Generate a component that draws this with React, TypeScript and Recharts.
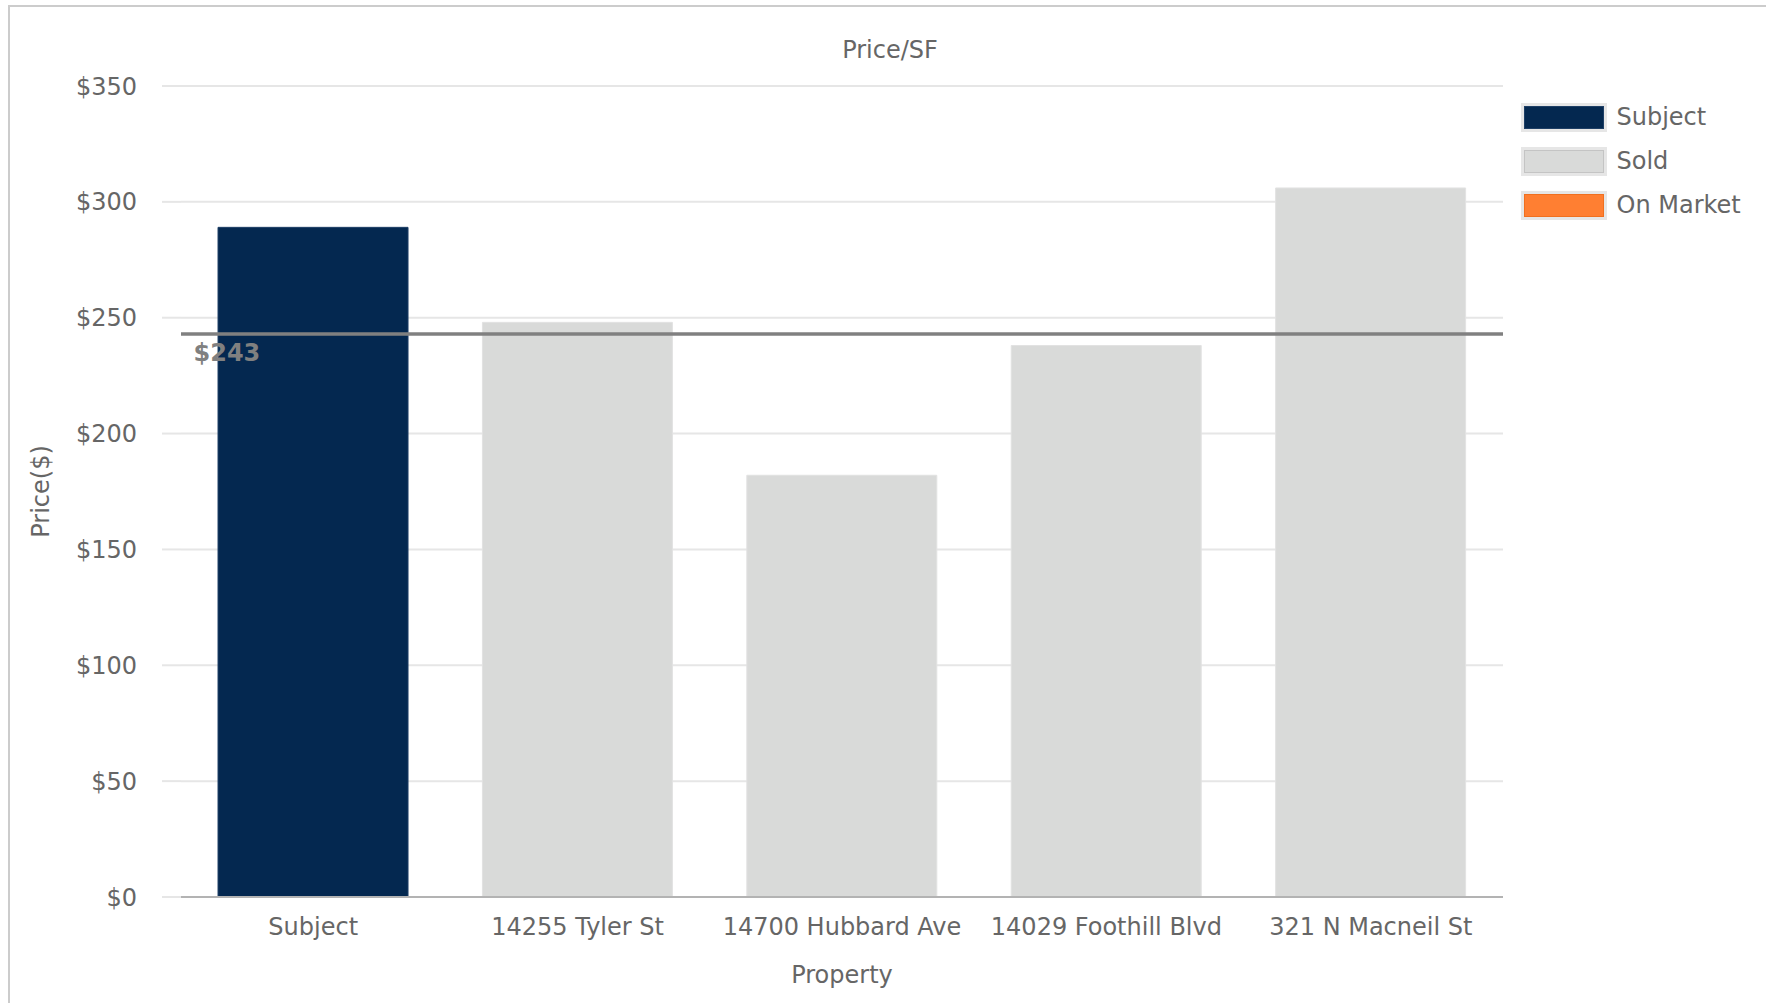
import React from 'react';
import { BarChart, Bar, Cell, XAxis, YAxis, CartesianGrid, ReferenceLine } from 'recharts';

// Price per square foot for the subject and its comparables
const properties = ['Subject', '14255 Tyler St', '14700 Hubbard Ave', '14029 Foothill Blvd', '321 N Macneil St'];
const pricePerSf = [289, 248, 182, 238, 306];
const statuses = ['Subject', 'Sold', 'Sold', 'Sold', 'Sold'];
const averagePrice = 243;
const yTicks = [0, 50, 100, 150, 200, 250, 300, 350];

const legendLabels = ['Subject', 'Sold', 'On Market'];
const statusColors: Record<string, string> = {
  Subject: '#042850',
  Sold: '#d9dad9',
  'On Market': '#ff7f32',
};
const statusEdges: Record<string, string> = {
  Subject: '#1e3f66',
  Sold: '#e2e2e2',
  'On Market': '#f07020',
};
const legendEdges: Record<string, string> = {
  Subject: '#1e3f66',
  Sold: '#c4c4c4',
  'On Market': '#f07020',
};

const chartData = properties.map((name, i) => ({
  name,
  value: pricePerSf[i],
  status: statuses[i],
}));

const FONT = '"DejaVu Sans", Verdana, sans-serif';
const TEXT = '#666666';
const FS = 24;

const XTick = (props: any) => {
  const { x, y, payload } = props;
  return (
    <text x={x} y={y + 38} textAnchor="middle" fill={TEXT} fontSize={FS} fontFamily={FONT}>
      {payload.value}
    </text>
  );
};

const YTitle = (props: any) => {
  const vb = props.viewBox || { x: 0, y: 0, width: 0, height: 0 };
  const cx = vb.x + 48.5;
  const cy = vb.y + vb.height / 2;
  return (
    <text x={cx} y={cy} transform={`rotate(-90, ${cx}, ${cy})`} textAnchor="middle" fill={TEXT} fontSize={FS} fontFamily={FONT}>
      Price($)
    </text>
  );
};

const XTitle = (props: any) => {
  const vb = props.viewBox || { x: 0, y: 0, width: 0, height: 0 };
  return (
    <text x={vb.x + vb.width / 2} y={983} textAnchor="middle" fill={TEXT} fontSize={FS} fontFamily={FONT}>
      Property
    </text>
  );
};

const AvgLabel = (props: any) => {
  const vb = props.viewBox || { x: 0, y: 0 };
  return (
    <text x={vb.x + 12.5} y={vb.y + 27} fill="#808080" fontSize={FS} fontWeight="bold" fontFamily={FONT}>
      {`$${averagePrice}`}
    </text>
  );
};

const LegendBox = () => (
  <div style={{ position: 'absolute', left: 1521, top: 103, fontFamily: FONT }}>
    {legendLabels.map((label) => (
      <div key={label} style={{ display: 'flex', alignItems: 'center', height: 28.5, marginBottom: 15.5 }}>
        <div
          style={{
            width: 85.5,
            height: 28.5,
            boxSizing: 'border-box',
            background: '#e6e6e6',
            padding: 2.5,
          }}
        >
          <div
            style={{
              width: '100%',
              height: '100%',
              boxSizing: 'border-box',
              background: statusColors[label],
              border: `1px solid ${legendEdges[label]}`,
            }}
          />
        </div>
        <span style={{ marginLeft: 10, fontSize: FS, color: TEXT, lineHeight: '28px' }}>{label}</span>
      </div>
    ))}
  </div>
);

export default function App() {
  return (
    <div style={{ position: 'fixed', left: 0, top: 0, width: '100vw', height: '100vh', overflow: 'hidden', background: '#ffffff' }}>
      <div
        style={{
          position: 'absolute',
          left: 8,
          top: 5,
          width: 1850,
          height: 1100,
          border: '2px solid #cccccc',
        }}
      />
      <div style={{ position: 'absolute', left: 0, top: 0 }}>
        <BarChart
          width={1766}
          height={1003}
          data={chartData}
          margin={{ top: 86, right: 263, bottom: 46, left: 0 }}
          barCategoryGap="14%"
        >
          <CartesianGrid horizontal vertical={false} stroke="#e6e6e6" strokeWidth={2} />
          <XAxis
            dataKey="name"
            height={60}
            tickLine={false}
            tickSize={0}
            tickMargin={0}
            axisLine={{ stroke: '#b3b3b3', strokeWidth: 2 }}
            tick={<XTick />}
            interval={0}
            label={{ content: <XTitle /> }}
          />
          <YAxis
            width={181}
            domain={[0, 350]}
            ticks={yTicks}
            interval={0}
            axisLine={false}
            tickSize={19}
            tickMargin={25}
            tickLine={{ stroke: '#e6e6e6', strokeWidth: 2 }}
            tickFormatter={(v: number) => `$${v}`}
            tick={{ fill: TEXT, fontSize: FS, fontFamily: FONT }}
            label={{ content: <YTitle /> }}
          />
          <Bar dataKey="value" isAnimationActive={false}>
            {chartData.map((d) => (
              <Cell key={d.name} fill={statusColors[d.status]} stroke={statusEdges[d.status]} strokeWidth={1} />
            ))}
          </Bar>
          <ReferenceLine
            y={averagePrice}
            stroke="#808080"
            strokeWidth={3.5}
            label={{ content: <AvgLabel /> }}
          />
        </BarChart>
      </div>
      <svg width={1766} height={80} style={{ position: 'absolute', left: 0, top: 0, pointerEvents: 'none' }}>
        <text x={890} y={57.5} textAnchor="middle" fill={TEXT} fontSize={FS} fontFamily={FONT}>
          Price/SF
        </text>
      </svg>
      <LegendBox />
    </div>
  );
}
